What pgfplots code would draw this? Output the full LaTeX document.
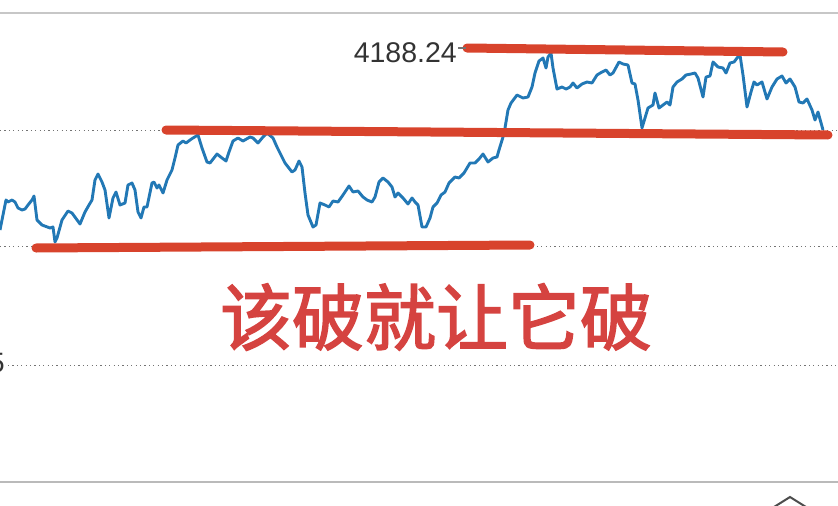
\documentclass[border=0pt]{standalone}
\usepackage{pgfplots}
\pgfplotsset{compat=1.18}
\usepackage{fontspec}
\setmainfont{Liberation Sans}
\newfontfamily\cjk[FakeBold=2.2]{Noto Sans CJK SC}
\definecolor{lineblue}{HTML}{2278B5}
\definecolor{markred}{HTML}{D8432C}
\definecolor{textred}{HTML}{D54340}
\definecolor{labgray}{HTML}{333333}
\begin{document}
\begin{tikzpicture}
\begin{axis}[
  scale only axis, width=838pt, height=506pt,
  xmin=0, xmax=838, ymin=0, ymax=506, y dir=reverse,
  hide axis, clip=false,
]
% frame lines and dotted grid
\draw[color=black!22, line width=1.4pt] (axis cs:0,13) -- (axis cs:838,13);
\draw[color=black!27, line width=1.4pt] (axis cs:0,482) -- (axis cs:838,482);
\draw[color=black!55, line width=1pt, dash pattern=on 1.2pt off 3.2pt] (axis cs:0,130) -- (axis cs:838,130);
\draw[color=black!55, line width=1pt, dash pattern=on 1.2pt off 3.2pt] (axis cs:0,246) -- (axis cs:838,246);
\draw[color=black!55, line width=1pt, dash pattern=on 1.2pt off 3.2pt] (axis cs:8,365) -- (axis cs:838,365);
\node[anchor=east, text=labgray, font=\fontsize{28}{30}\selectfont, inner sep=0pt] at (axis cs:5,363) {5};
% price line
\addplot[color=lineblue, line width=2.9pt, line join=round, no marks] coordinates {
(0,230) (3,215) (6,200) (8,202) (12,200) (15,202) (18,208) (22,210) (25,209) (28,205)
(32,200) (34,196) (37,220) (42,225) (50,228) (53,227) (55,242) (57,238) (62,220) (68,211)
(72,213) (80,224) (85,212) (89,205) (92,200) (95,180) (98,174) (102,182) (105,190) (109,218)
(113,198) (116,192) (120,205) (125,203) (128,185) (132,183) (135,190) (138,212) (141,218) (144,207)
(147,207) (152,183) (154,182) (157,188) (159,185) (163,193) (167,180) (172,170) (175,158) (178,145)
(183,141) (186,143) (190,140) (193,138) (198,135) (202,148) (207,162) (210,163) (217,154) (222,158)
(226,161) (229,152) (233,141) (238,138) (243,141) (250,137) (253,138) (258,143) (263,137) (267,133)
(273,138) (277,147) (280,153) (285,163) (292,172) (295,170) (299,161) (302,167) (305,193) (308,215)
(313,227) (316,225) (320,203) (325,205) (329,207) (333,201) (338,202) (343,195) (349,186) (353,192)
(358,191) (363,197) (367,200) (372,202) (375,197) (379,182) (383,178) (388,182) (392,187) (395,197)
(398,193) (403,198) (408,204) (412,198) (415,202) (418,205) (422,227) (426,227) (430,218) (433,207)
(437,203) (441,195) (445,192) (449,183) (455,177) (459,178) (464,173) (470,163) (475,163) (479,159)
(483,154) (488,162) (493,158) (497,157) (499,150) (503,137) (505,128) (508,110) (511,103) (517,95)
(523,98) (528,97) (532,87) (535,73) (539,61) (543,58) (546,68) (548,57) (551,53) (553,68)
(557,89) (562,87) (566,89) (570,87) (573,83) (577,88) (582,84) (587,82) (592,83) (597,75)
(602,72) (606,70) (610,75) (613,73) (619,62) (623,64) (628,65) (632,83) (635,84) (638,100)
(642,128) (645,118) (648,108) (653,105) (655,93) (659,108) (663,105) (667,102) (670,105) (673,87)
(677,82) (682,79) (686,75) (691,74) (695,73) (698,78) (703,97) (706,77) (710,76) (713,62)
(718,67) (723,68) (726,73) (730,63) (734,62) (737,58) (740,55) (743,75) (747,107) (751,92)
(754,82) (757,85) (762,82) (767,99) (772,87) (777,79) (782,76) (786,83) (790,79) (795,87)
(799,102) (803,103) (807,99) (812,110) (815,120) (818,112) (823,130)
};
% red hand-drawn lines
\draw[color=markred, line width=9pt, line cap=round] (axis cs:467,48) -- (axis cs:783,52);
\draw[color=markred, line width=9pt, line cap=round] (axis cs:166,130) -- (axis cs:828,135);
\draw[color=markred, line width=9pt, line cap=round] (axis cs:36,248) -- (axis cs:530,245);
% max label
\draw[color=black!55, line width=1.2pt] (axis cs:458,48) -- (axis cs:466,48);
\node[anchor=east, text=labgray, font=\fontsize{28.5}{30}\selectfont, inner sep=0pt] at (axis cs:457,53) {4188.24};
% annotation
\node[text=textred, font=\cjk\fontsize{72}{80}\selectfont, inner sep=0pt] at (axis cs:436,317) {该破就让它破};
% bottom-right icon
\draw[color=black!70, line width=2pt] (axis cs:774,507) -- (axis cs:790,497) -- (axis cs:806,507);
\end{axis}
\pgfresetboundingbox
\path[use as bounding box] (0,0) rectangle (838pt,506pt);
\end{tikzpicture}
\end{document}
